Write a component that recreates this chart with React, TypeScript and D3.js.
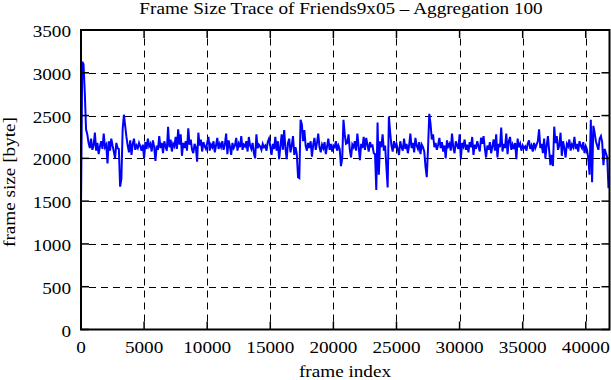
import { useEffect, useRef } from "react";
import * as d3 from "d3";

// frame sizes, one value per 100 frames (aggregation 100)
const frameSizes: number[] = [
  1450, 3130, 3100, 2770, 2340, 2280, 2180, 2120, 2230, 2100,
  2150, 2300, 2090, 2180, 2050, 2140, 2200, 2110, 2290, 2130,
  2160, 1940, 2200, 2090, 2230, 2150, 2080, 2000, 2180, 2120,
  2110, 1670, 1760, 2340, 2510, 2380, 2250, 2150, 2070, 2210,
  2040, 2170, 2230, 2100, 2150, 2120, 2180, 2140, 2090, 2160,
  2000, 2190, 2110, 2230, 2140, 2170, 2080, 2210, 2130, 1970,
  2150, 2100, 2260, 2120, 2180, 2060, 2200, 2140, 2090, 2370,
  2130, 2220, 2080, 2170, 2140, 2250, 2110, 2340, 2160, 2280,
  2030, 2180, 2120, 2200, 2090, 2350, 2160, 2220, 2100, 2060,
  2170, 2130, 1960, 2300, 2150, 2220, 2080, 2190, 2140, 2110,
  2180, 2250, 2090, 2160, 2130, 2200, 2070, 2150, 2240, 2110,
  2170, 2130, 2200, 2100, 2160, 2290, 2050, 2210, 2140, 2040,
  2180, 2120, 2150, 2240, 2090, 2170, 2130, 2260, 2100, 2160,
  2140, 2200, 2080, 2250, 2150, 2110, 2180, 2060, 2000, 2280,
  2120, 2160, 2140, 2100, 2170, 2130, 2150, 2090, 2190, 2230, 2140,
  2040, 2170, 2110, 2250, 2090, 2200, 1990, 2140, 2280, 2100,
  2330, 2120, 1990, 2180, 2230, 2070, 2150, 2260, 2040, 2130,
  2050, 1780, 1770, 2450, 2400, 2200, 2330, 2150, 2090, 2180,
  2120, 2200, 2020, 2160, 2240, 2100, 2180, 2290, 2130, 2070,
  2160, 2120, 2190, 2050, 2140, 2230, 2100, 2170, 2080, 2150,
  2130, 2200, 2090, 2150, 2110, 1910, 2000, 2450, 2280, 2170,
  2180, 2280, 2100, 2010, 2160, 2130, 2200, 2090, 2290, 2140,
  1980, 2170, 2120, 2250, 2100, 2240, 2160, 2080, 2190, 2140,
  2150, 2060, 2050, 1630, 2420, 1810, 2200, 2130, 2280, 2090,
  2150, 1900, 1660, 2490, 2300, 2150, 2080, 2200, 2120, 2170, 2110,
  2040, 2200, 2130, 2090, 2230, 2110, 2170, 2060, 2150, 2290,
  2120, 2180, 2070, 2240, 2150, 2110, 2190, 2050, 2160, 2130,
  2080, 1900, 1780, 2120, 2520, 2400, 2220, 2280, 2130, 2180,
  2100, 2160, 2240, 2120, 2190, 2080, 2150, 2000, 2210, 2140,
  2170, 2090, 2290, 2130, 2060, 2200, 2150, 2110, 2280, 1990,
  2180, 2140, 2220, 2100, 2160, 2070, 2190, 2130, 2250, 2040,
  2160, 2110, 2200, 2140, 2080, 2240, 2170, 2260, 2120, 2010,
  2150, 2100, 2190, 2060, 2140, 2220, 2090, 2280, 2010, 2170,
  2130, 2360, 2080, 2170, 2120, 2290, 2050, 2200, 2250, 2100,
  2160, 2110, 2180, 1990, 2230, 2130, 2170, 2090, 2150, 2120,
  2140, 2090, 2170, 2210, 2110, 2150, 2080, 2180, 2120, 2160,
  2200, 2340, 2120, 2170, 2060, 2230, 2000, 2150, 2260, 2090,
  1920, 2040, 1910, 2370, 2180, 2260, 2100, 2150, 2300, 2030,
  2200, 2120, 2010, 2170, 2140, 2220, 2090, 2160, 2130, 2250,
  2110, 2170, 2080, 2200, 2150, 2120, 2190, 2060, 2140, 2100,
  2000, 1810, 2450, 1720, 2380, 2300, 2200, 2150, 2100, 2230,
  2260, 2190, 1920, 2110, 2060, 2010, 1650,
];
const aggregation = 100;

const xTicks = [0, 5000, 10000, 15000, 20000, 25000, 30000, 35000, 40000];
const yTicks = [0, 500, 1000, 1500, 2000, 2500, 3000, 3500];

const title = "Frame Size Trace of Friends9x05 \u2013 Aggregation 100";
const xLabel = "frame index";
const yLabel = "frame size [byte]";

const W = 611;
const H = 380;
const FONT = "'Liberation Serif', 'Times New Roman', serif";
const STRETCH = 1.2;

const App = () => {
  const svgRef = useRef<SVGSVGElement>(null);

  useEffect(() => {
    if (!svgRef.current) return;
    const svg = d3.select(svgRef.current);
    svg.selectAll("*").remove();

    const left = 81, right = 609.5, top = 30, bottom = 329.5;
    const x = d3.scaleLinear().domain([0, 41880]).range([left, right]);
    const y = d3.scaleLinear().domain([0, 3500]).range([bottom, top]);

    const text = (
      str: string, tx: number, ty: number, anchor: string, rotate = false
    ) =>
      svg
        .append("text")
        .attr(
          "transform",
          `translate(${tx},${ty})${rotate ? " rotate(-90)" : ""} scale(${STRETCH},1)`
        )
        .attr("text-anchor", anchor)
        .attr("font-family", FONT)
        .attr("font-size", 16)
        .attr("fill", "#000")
        .text(str);

    // grid
    const grid = svg.append("g").attr("stroke", "#000").attr("stroke-width", 1)
      .attr("stroke-dasharray", "7,5").attr("fill", "none");
    grid.selectAll("line.gx")
      .data(xTicks.filter((d) => d > 0))
      .join("line")
      .attr("x1", (d) => Math.round(x(d)) + 0.5).attr("x2", (d) => Math.round(x(d)) + 0.5)
      .attr("y1", bottom - 8).attr("y2", top + 8);
    grid.selectAll("line.gy")
      .data(yTicks.filter((d) => d > 0 && d < 3500))
      .join("line")
      .attr("class", "gy")
      .attr("x1", left + 8).attr("x2", right - 8)
      .attr("y1", (d) => Math.round(y(d)) + 0.5).attr("y2", (d) => Math.round(y(d)) + 0.5);

    // trace
    const line = d3.line<number>()
      .x((_, i) => x(i * aggregation))
      .y((d) => y(d));
    svg.append("path")
      .datum(frameSizes)
      .attr("d", line)
      .attr("fill", "none")
      .attr("stroke", "#0000ff")
      .attr("stroke-width", 2)
      .attr("stroke-linejoin", "miter");

    // ticks (inside, mirrored)
    const ticks = svg.append("g").attr("stroke", "#000").attr("stroke-width", 1.5);
    xTicks.forEach((t) => {
      const px = x(t);
      ticks.append("line").attr("x1", px).attr("x2", px).attr("y1", bottom).attr("y2", bottom - 8);
      ticks.append("line").attr("x1", px).attr("x2", px).attr("y1", top).attr("y2", top + 8);
      text(String(t), px, 353, "middle");
    });
    yTicks.forEach((t) => {
      const py = y(t);
      ticks.append("line").attr("x1", left).attr("x2", left + 8).attr("y1", py).attr("y2", py);
      ticks.append("line").attr("x1", right).attr("x2", right - 8).attr("y1", py).attr("y2", py);
      text(String(t), 71, py + 7, "end");
    });

    // border
    svg.append("rect")
      .attr("x", left).attr("y", top)
      .attr("width", right - left).attr("height", bottom - top)
      .attr("fill", "none").attr("stroke", "#000").attr("stroke-width", 2);

    text(title, 341, 13.5, "middle");
    text(xLabel, 345, 377, "middle");
    text(yLabel, 14.5, 182, "middle", true);
  }, []);

  return (
    <div style={{ position: "absolute", left: 0, top: 0, width: W, height: H, background: "#fff" }}>
      <svg ref={svgRef} width={W} height={H} style={{ display: "block" }}></svg>
    </div>
  );
};

export default App;
